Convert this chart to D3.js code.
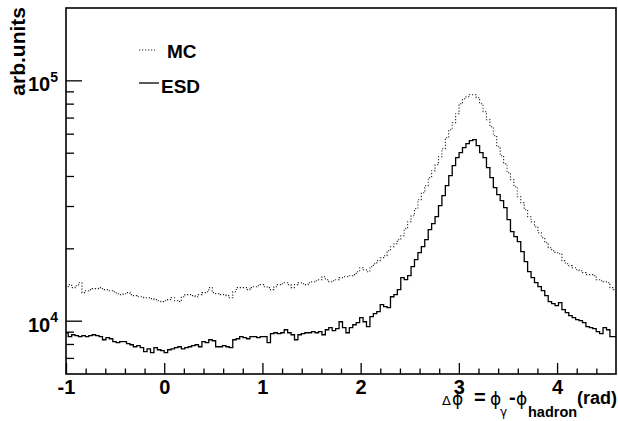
<!DOCTYPE html>
<html><head><meta charset="utf-8">
<script src="https://cdn.jsdelivr.net/npm/d3@7"></script>
<style>body{margin:0;background:#fff}svg{display:block}</style>
</head><body>
<svg id="c" width="618" height="421"></svg>
<script>
// ---- data ----
const binLow = -1.01229;      // lower edge of first drawn bin (rad)
const binWidth = 0.034907;    // 2π/180
const mcValues = [
13850,14120,13720,13980,14390,13080,13330,13460,13590,13590,
13720,13460,13460,13330,13200,12950,12830,12950,13080,12830,
12710,12580,12580,12460,12460,12350,12230,12110,12000,12110,
12230,12460,12110,12000,12580,12830,12830,12710,12580,12830,
13080,13200,13720,13080,12950,12830,12830,12710,12460,13200,
13720,13720,13720,13460,13720,13850,13980,14120,13850,13720,
13460,13850,14120,14250,14390,14120,13720,14120,14390,14250,
14120,14390,14530,14670,14810,15240,14810,14530,14670,14810,
15100,15240,15240,15390,15540,15990,16610,16300,15990,16770,
17260,17770,18280,18640,19550,20320,20910,21720,22570,24140,
25810,27340,29240,31870,34080,36450,39350,42080,44570,48120,
51950,57730,62330,66650,72650,79960,83880,85500,87160,87160,
84690,79960,74060,68590,64140,58840,52960,48580,45000,41280,
38600,36100,32800,30970,28960,27080,25810,24610,23230,22150,
21110,20120,19550,19180,19000,17770,17260,16940,16610,16300,
16140,15840,15540,15540,15390,14810,14670,14530,14390,13720,
13460];
const esdValues = [
8910,8580,8740,8660,8580,8660,8580,8660,8740,8660,
8580,8330,8500,8410,8180,8100,8180,8180,8020,7940,
7790,7870,7720,7430,7640,7360,7720,7570,7500,7360,
7570,7640,7720,7790,7640,7720,7790,7870,7940,7790,
8180,8100,8330,8250,7790,7790,7870,7790,7720,8330,
8410,8580,8500,8410,8580,8580,8500,8580,8580,8100,
8830,8910,8830,8910,9170,8910,8740,8330,8740,8830,
8910,8910,9000,8910,9000,8740,9170,9350,9090,9260,
9900,9350,8910,9350,9620,9810,10290,9900,9440,10390,
10690,10900,11660,11440,11330,12580,12830,13460,15100,14810,
15390,16770,17940,19180,20320,21720,23910,25320,27080,30090,
33120,36450,40110,44140,47660,50000,52450,54500,56090,56630,
53470,50000,47660,43310,39350,35750,33430,31570,29520,26310,
23460,22360,21310,19370,17600,15990,15100,14390,13850,13330,
12710,12000,11770,11550,11880,11110,10800,10490,10290,10100,
10000,9810,9440,9350,9260,9000,8830,9350,9170,8580,
8580];
const xTickValues = [-1, 0, 1, 2, 3, 4];
const xMinorTickValues = [-0.8,-0.6,-0.4,-0.2,0.2,0.4,0.6,0.8,1.2,1.4,1.6,1.8,2.2,2.4,2.6,2.8,3.2,3.4,3.6,3.8,4.2,4.4];
const yTickValues = [1e4, 1e5];
const yTickExponents = ["4", "5"];
const yMinorTickValues = [7000,8000,9000,20000,30000,40000,50000,60000,70000,80000,90000];
const legendLabels = ["MC", "ESD"];
const yTitle = "arb.units";

// ---- layout ----
const FONT = "'Liberation Sans', Arial, Helvetica, sans-serif";
const GREEK = "'DejaVu Sans', sans-serif";
const svg = d3.select("#c");
const L = 66, R = 616, T = 8, B = 374;
const x = d3.scaleLinear().domain([-1, 4.6]).range([L, R]);
const y = d3.scaleLog().domain([6000, 2e5]).range([B, T]);

svg.append("rect").attr("width", 618).attr("height", 421).attr("fill", "#fff");
svg.append("clipPath").attr("id", "clip")
  .append("rect").attr("x", L).attr("y", T).attr("width", R - L).attr("height", B - T);

function stepPoints(vals) {
  const pts = [];
  vals.forEach((v, i) => {
    const lo = binLow + i * binWidth;
    pts.push([lo, v], [lo + binWidth, v]);
  });
  return pts;
}
const line = d3.line().x(d => x(d[0])).y(d => y(d[1]));

const g = svg.append("g").attr("clip-path", "url(#clip)");
g.append("path").attr("d", line(stepPoints(mcValues)))
  .attr("fill", "none").attr("stroke", "#222").attr("stroke-width", 1.1)
  .attr("stroke-dasharray", "1.2,1.8");
g.append("path").attr("d", line(stepPoints(esdValues)))
  .attr("fill", "none").attr("stroke", "#000").attr("stroke-width", 1.3);

// axes
const xMajor = svg.append("g").attr("transform", `translate(0,${B})`)
  .call(d3.axisBottom(x).tickValues(xTickValues).tickSizeInner(-11).tickSizeOuter(0)
    .tickPadding(6).tickFormat(d => String(d)));
const xMinor = svg.append("g").attr("transform", `translate(0,${B})`)
  .call(d3.axisBottom(x).tickValues(xMinorTickValues).tickSizeInner(-5.5).tickSizeOuter(0).tickFormat(""));
const yMajor = svg.append("g").attr("transform", `translate(${L},0)`)
  .call(d3.axisLeft(y).tickValues(yTickValues).tickSizeInner(-16).tickSizeOuter(0).tickFormat(""));
const yMinor = svg.append("g").attr("transform", `translate(${L},0)`)
  .call(d3.axisLeft(y).tickValues(yMinorTickValues).tickSizeInner(-8).tickSizeOuter(0).tickFormat(""));
[xMajor, xMinor, yMajor, yMinor].forEach(a => {
  a.select(".domain").remove();
  a.selectAll(".tick line").attr("stroke", "#000").attr("stroke-width", 1.3);
});
xMajor.selectAll(".tick text").attr("font-family", FONT).attr("font-weight", "bold")
  .attr("font-size", 20).attr("fill", "#000");

// y labels 10^n
svg.selectAll(".ylab").data(yTickValues).join("text").attr("class", "ylab")
  .attr("x", 58).attr("y", d => y(d) + 11).attr("text-anchor", "end")
  .attr("font-family", FONT).attr("font-weight", "bold").attr("font-size", 20)
  .each(function(d, i) {
    const t = d3.select(this);
    t.append("tspan").text("10");
    t.append("tspan").attr("dy", -9.5).attr("font-size", 14).text(yTickExponents[i]);
  });

// frame
svg.append("rect").attr("x", L).attr("y", T).attr("width", R - L).attr("height", B - T)
  .attr("fill", "none").attr("stroke", "#000").attr("stroke-width", 1.6);

// y title
svg.append("text").attr("transform", "translate(25,7) rotate(-90)").attr("text-anchor", "end")
  .attr("font-family", FONT).attr("font-weight", "bold").attr("font-size", 21).text(yTitle);

// x title
const xt = svg.append("text").attr("font-family", FONT).attr("fill", "#000");
const parts = [
  {t: "\u0394", x: 442, y: 405, fs: 13, w: "normal", f: GREEK},
  {t: "\u03D5", x: 452, y: 405, fs: 17, w: "normal", f: GREEK},
  {t: "=", x: 474, y: 404, fs: 20, w: "bold", f: FONT},
  {t: "\u03D5", x: 490, y: 405, fs: 17, w: "normal", f: GREEK},
  {t: "\u03B3", x: 500, y: 416, fs: 12, w: "normal", f: GREEK},
  {t: "-", x: 509, y: 404, fs: 20, w: "bold", f: FONT},
  {t: "\u03D5", x: 516, y: 405, fs: 17, w: "normal", f: GREEK},
  {t: "hadron", x: 528, y: 417, fs: 14.5, w: "bold", f: FONT},
  {t: "(rad)", x: 577, y: 404, fs: 18, w: "bold", f: FONT}
];
parts.forEach(p => xt.append("tspan").attr("x", p.x).attr("y", p.y)
  .attr("font-family", p.f).attr("font-size", p.fs).attr("font-weight", p.w).text(p.t));

// legend
const legY = [50, 83];
const legTextX = [167, 161];
const legTextY = [58, 93];
const lg = svg.append("g");
legendLabels.forEach((lab, i) => {
  lg.append("line").attr("x1", 139).attr("x2", i === 0 ? 155 : 159)
    .attr("y1", legY[i]).attr("y2", legY[i])
    .attr("stroke", i === 0 ? "#222" : "#000").attr("stroke-width", i === 0 ? 1.1 : 1.3)
    .attr("stroke-dasharray", i === 0 ? "1.2,1.8" : null);
  lg.append("text").attr("x", legTextX[i]).attr("y", legTextY[i])
    .attr("font-family", FONT).attr("font-weight", "bold").attr("font-size", 19).text(lab);
});
</script>
</body></html>
